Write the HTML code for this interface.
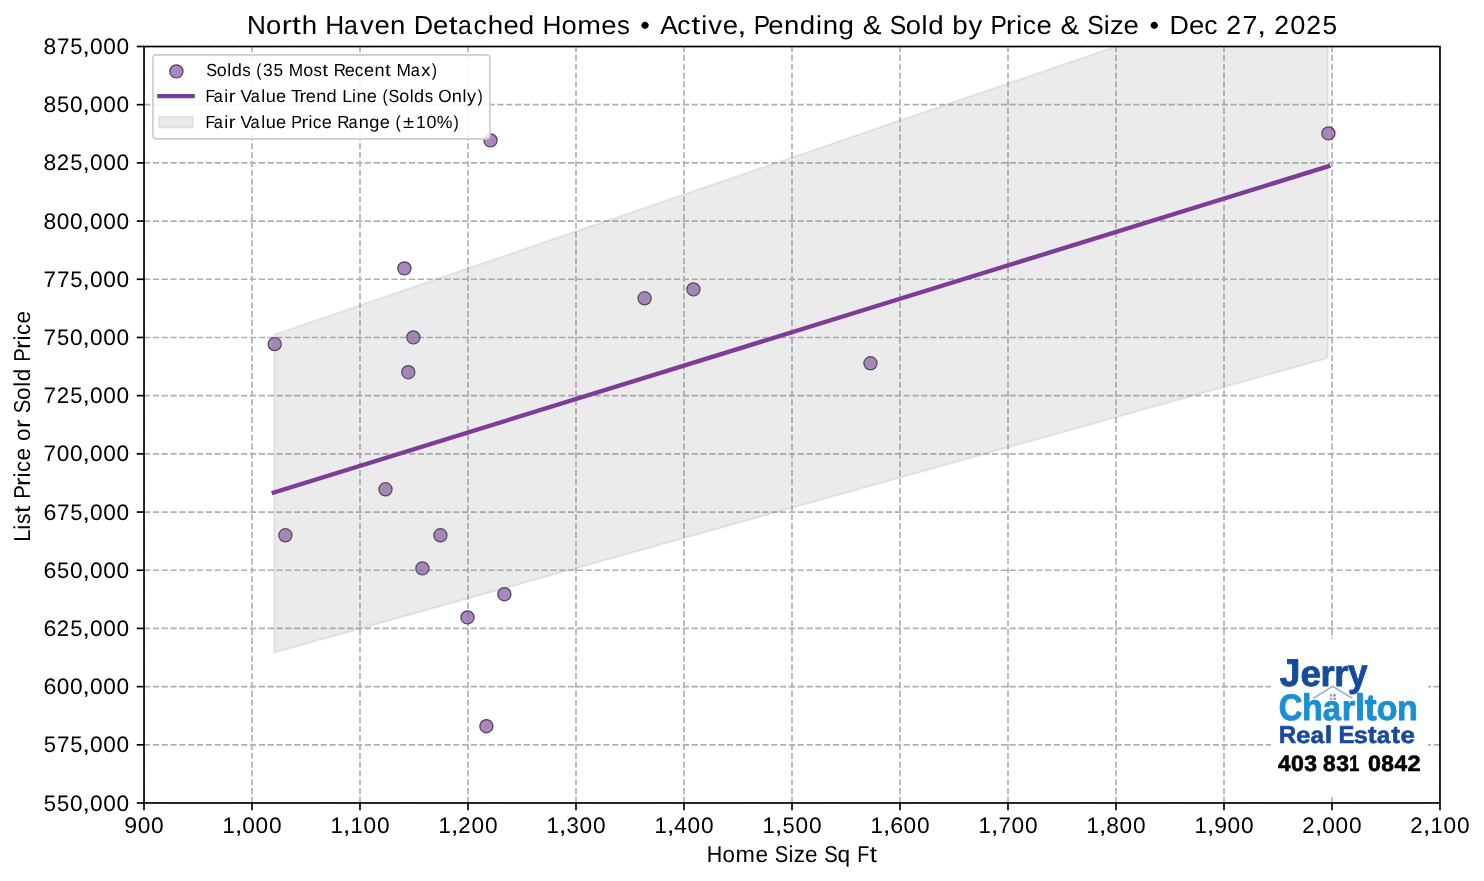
<!DOCTYPE html><html><head><meta charset="utf-8"><style>html,body{margin:0;padding:0;background:#fff;width:1484px;height:881px;overflow:hidden}svg{display:block;will-change:transform}text{font-family:"Liberation Sans", sans-serif;font-kerning:none;white-space:pre;text-rendering:geometricPrecision}</style></head><body>
<svg width="1484" height="881" viewBox="0 0 1484 881">
<rect x="0" y="0" width="1484" height="881" fill="#fff"/>
<defs><clipPath id="ax"><rect x="144.0" y="46.5" width="1296.0" height="756.5"/></clipPath></defs>
<g clip-path="url(#ax)">
<g stroke="#b0b0b0" stroke-width="1.67" stroke-dasharray="6.1667 2.6667"><line x1="144.00" y1="803.0" x2="144.00" y2="46.5"/><line x1="252.00" y1="803.0" x2="252.00" y2="46.5"/><line x1="360.00" y1="803.0" x2="360.00" y2="46.5"/><line x1="468.00" y1="803.0" x2="468.00" y2="46.5"/><line x1="576.00" y1="803.0" x2="576.00" y2="46.5"/><line x1="684.00" y1="803.0" x2="684.00" y2="46.5"/><line x1="792.00" y1="803.0" x2="792.00" y2="46.5"/><line x1="900.00" y1="803.0" x2="900.00" y2="46.5"/><line x1="1008.00" y1="803.0" x2="1008.00" y2="46.5"/><line x1="1116.00" y1="803.0" x2="1116.00" y2="46.5"/><line x1="1224.00" y1="803.0" x2="1224.00" y2="46.5"/><line x1="1332.00" y1="803.0" x2="1332.00" y2="46.5"/><line x1="1440.00" y1="803.0" x2="1440.00" y2="46.5"/><line x1="144.0" y1="803.00" x2="1440.0" y2="803.00"/><line x1="144.0" y1="744.81" x2="1440.0" y2="744.81"/><line x1="144.0" y1="686.62" x2="1440.0" y2="686.62"/><line x1="144.0" y1="628.42" x2="1440.0" y2="628.42"/><line x1="144.0" y1="570.23" x2="1440.0" y2="570.23"/><line x1="144.0" y1="512.04" x2="1440.0" y2="512.04"/><line x1="144.0" y1="453.85" x2="1440.0" y2="453.85"/><line x1="144.0" y1="395.65" x2="1440.0" y2="395.65"/><line x1="144.0" y1="337.46" x2="1440.0" y2="337.46"/><line x1="144.0" y1="279.27" x2="1440.0" y2="279.27"/><line x1="144.0" y1="221.08" x2="1440.0" y2="221.08"/><line x1="144.0" y1="162.88" x2="1440.0" y2="162.88"/><line x1="144.0" y1="104.69" x2="1440.0" y2="104.69"/><line x1="144.0" y1="46.50" x2="1440.0" y2="46.50"/></g>
<g fill="#8d60a8" fill-opacity="0.75" stroke="#35283f" stroke-opacity="0.85" stroke-width="1.2"><circle cx="274.7" cy="344.1" r="6.6"/><circle cx="285.4" cy="535.3" r="6.6"/><circle cx="385.5" cy="489.3" r="6.6"/><circle cx="404.4" cy="268.4" r="6.6"/><circle cx="408.3" cy="372.2" r="6.6"/><circle cx="413.35" cy="337.4" r="6.6"/><circle cx="422.4" cy="568.4" r="6.6"/><circle cx="440.4" cy="535.3" r="6.6"/><circle cx="467.5" cy="617.4" r="6.6"/><circle cx="486.4" cy="726.2" r="6.6"/><circle cx="490.5" cy="140.4" r="6.6"/><circle cx="504.4" cy="594.2" r="6.6"/><circle cx="644.6" cy="298.3" r="6.6"/><circle cx="693.45" cy="289.4" r="6.6"/><circle cx="870.5" cy="363.3" r="6.6"/><circle cx="1328.4" cy="133.4" r="6.6"/></g>
<polygon points="274.3,334.64 1327.8,-26.0 1327.8,358.0 274.3,652.56" fill="#808080" fill-opacity="0.16" stroke="#808080" stroke-opacity="0.16" stroke-width="2"/>
<line x1="273.8" y1="492.5" x2="1328.3" y2="166.3" stroke="#7d3c98" stroke-width="4.4" stroke-linecap="square"/>
</g>
<rect x="144.0" y="46.5" width="1296.0" height="756.5" fill="none" stroke="#000" stroke-width="1.67"/>
<g stroke="#000" stroke-width="1.67"><line x1="144.00" y1="803.0" x2="144.00" y2="810.30"/><line x1="252.00" y1="803.0" x2="252.00" y2="810.30"/><line x1="360.00" y1="803.0" x2="360.00" y2="810.30"/><line x1="468.00" y1="803.0" x2="468.00" y2="810.30"/><line x1="576.00" y1="803.0" x2="576.00" y2="810.30"/><line x1="684.00" y1="803.0" x2="684.00" y2="810.30"/><line x1="792.00" y1="803.0" x2="792.00" y2="810.30"/><line x1="900.00" y1="803.0" x2="900.00" y2="810.30"/><line x1="1008.00" y1="803.0" x2="1008.00" y2="810.30"/><line x1="1116.00" y1="803.0" x2="1116.00" y2="810.30"/><line x1="1224.00" y1="803.0" x2="1224.00" y2="810.30"/><line x1="1332.00" y1="803.0" x2="1332.00" y2="810.30"/><line x1="1440.00" y1="803.0" x2="1440.00" y2="810.30"/><line x1="136.70" y1="803.00" x2="144.0" y2="803.00"/><line x1="136.70" y1="744.81" x2="144.0" y2="744.81"/><line x1="136.70" y1="686.62" x2="144.0" y2="686.62"/><line x1="136.70" y1="628.42" x2="144.0" y2="628.42"/><line x1="136.70" y1="570.23" x2="144.0" y2="570.23"/><line x1="136.70" y1="512.04" x2="144.0" y2="512.04"/><line x1="136.70" y1="453.85" x2="144.0" y2="453.85"/><line x1="136.70" y1="395.65" x2="144.0" y2="395.65"/><line x1="136.70" y1="337.46" x2="144.0" y2="337.46"/><line x1="136.70" y1="279.27" x2="144.0" y2="279.27"/><line x1="136.70" y1="221.08" x2="144.0" y2="221.08"/><line x1="136.70" y1="162.88" x2="144.0" y2="162.88"/><line x1="136.70" y1="104.69" x2="144.0" y2="104.69"/><line x1="136.70" y1="46.50" x2="144.0" y2="46.50"/></g>
<g transform="translate(0 810.60)" font-size="22.4" fill="#000"><text transform="translate(49.79 0) scale(0.981 1)" x="-6.21">5</text><text transform="translate(63.04 0) scale(0.981 1)" x="-6.21">5</text><text transform="translate(76.40 0) scale(1.014 1)" x="-6.23">0</text><text transform="translate(86.13 0) scale(1.239 1)" x="-3.11">,</text><text transform="translate(96.28 0) scale(1.014 1)" x="-6.23">0</text><text transform="translate(109.53 0) scale(1.014 1)" x="-6.23">0</text><text transform="translate(122.79 0) scale(1.014 1)" x="-6.23">0</text></g>
<g transform="translate(0 752.41)" font-size="22.4" fill="#000"><text transform="translate(49.79 0) scale(0.981 1)" x="-6.21">5</text><text transform="translate(63.12 0) scale(1.001 1)" x="-6.24">7</text><text transform="translate(76.30 0) scale(0.981 1)" x="-6.21">5</text><text transform="translate(86.13 0) scale(1.239 1)" x="-3.11">,</text><text transform="translate(96.28 0) scale(1.014 1)" x="-6.23">0</text><text transform="translate(109.53 0) scale(1.014 1)" x="-6.23">0</text><text transform="translate(122.79 0) scale(1.014 1)" x="-6.23">0</text></g>
<g transform="translate(0 694.22)" font-size="22.4" fill="#000"><text transform="translate(49.97 0) scale(1.034 1)" x="-6.31">6</text><text transform="translate(63.15 0) scale(1.014 1)" x="-6.23">0</text><text transform="translate(76.40 0) scale(1.014 1)" x="-6.23">0</text><text transform="translate(86.13 0) scale(1.239 1)" x="-3.11">,</text><text transform="translate(96.28 0) scale(1.014 1)" x="-6.23">0</text><text transform="translate(109.53 0) scale(1.014 1)" x="-6.23">0</text><text transform="translate(122.79 0) scale(1.014 1)" x="-6.23">0</text></g>
<g transform="translate(0 636.02)" font-size="22.4" fill="#000"><text transform="translate(49.97 0) scale(1.034 1)" x="-6.31">6</text><text transform="translate(62.87 0) scale(0.993 1)" x="-6.23">2</text><text transform="translate(76.30 0) scale(0.981 1)" x="-6.21">5</text><text transform="translate(86.13 0) scale(1.239 1)" x="-3.11">,</text><text transform="translate(96.28 0) scale(1.014 1)" x="-6.23">0</text><text transform="translate(109.53 0) scale(1.014 1)" x="-6.23">0</text><text transform="translate(122.79 0) scale(1.014 1)" x="-6.23">0</text></g>
<g transform="translate(0 577.83)" font-size="22.4" fill="#000"><text transform="translate(49.97 0) scale(1.034 1)" x="-6.31">6</text><text transform="translate(63.04 0) scale(0.981 1)" x="-6.21">5</text><text transform="translate(76.40 0) scale(1.014 1)" x="-6.23">0</text><text transform="translate(86.13 0) scale(1.239 1)" x="-3.11">,</text><text transform="translate(96.28 0) scale(1.014 1)" x="-6.23">0</text><text transform="translate(109.53 0) scale(1.014 1)" x="-6.23">0</text><text transform="translate(122.79 0) scale(1.014 1)" x="-6.23">0</text></g>
<g transform="translate(0 519.64)" font-size="22.4" fill="#000"><text transform="translate(49.97 0) scale(1.034 1)" x="-6.31">6</text><text transform="translate(63.12 0) scale(1.001 1)" x="-6.24">7</text><text transform="translate(76.30 0) scale(0.981 1)" x="-6.21">5</text><text transform="translate(86.13 0) scale(1.239 1)" x="-3.11">,</text><text transform="translate(96.28 0) scale(1.014 1)" x="-6.23">0</text><text transform="translate(109.53 0) scale(1.014 1)" x="-6.23">0</text><text transform="translate(122.79 0) scale(1.014 1)" x="-6.23">0</text></g>
<g transform="translate(0 461.45)" font-size="22.4" fill="#000"><text transform="translate(49.86 0) scale(1.001 1)" x="-6.24">7</text><text transform="translate(63.15 0) scale(1.014 1)" x="-6.23">0</text><text transform="translate(76.40 0) scale(1.014 1)" x="-6.23">0</text><text transform="translate(86.13 0) scale(1.239 1)" x="-3.11">,</text><text transform="translate(96.28 0) scale(1.014 1)" x="-6.23">0</text><text transform="translate(109.53 0) scale(1.014 1)" x="-6.23">0</text><text transform="translate(122.79 0) scale(1.014 1)" x="-6.23">0</text></g>
<g transform="translate(0 403.25)" font-size="22.4" fill="#000"><text transform="translate(49.86 0) scale(1.001 1)" x="-6.24">7</text><text transform="translate(62.87 0) scale(0.993 1)" x="-6.23">2</text><text transform="translate(76.30 0) scale(0.981 1)" x="-6.21">5</text><text transform="translate(86.13 0) scale(1.239 1)" x="-3.11">,</text><text transform="translate(96.28 0) scale(1.014 1)" x="-6.23">0</text><text transform="translate(109.53 0) scale(1.014 1)" x="-6.23">0</text><text transform="translate(122.79 0) scale(1.014 1)" x="-6.23">0</text></g>
<g transform="translate(0 345.06)" font-size="22.4" fill="#000"><text transform="translate(49.86 0) scale(1.001 1)" x="-6.24">7</text><text transform="translate(63.04 0) scale(0.981 1)" x="-6.21">5</text><text transform="translate(76.40 0) scale(1.014 1)" x="-6.23">0</text><text transform="translate(86.13 0) scale(1.239 1)" x="-3.11">,</text><text transform="translate(96.28 0) scale(1.014 1)" x="-6.23">0</text><text transform="translate(109.53 0) scale(1.014 1)" x="-6.23">0</text><text transform="translate(122.79 0) scale(1.014 1)" x="-6.23">0</text></g>
<g transform="translate(0 286.87)" font-size="22.4" fill="#000"><text transform="translate(49.86 0) scale(1.001 1)" x="-6.24">7</text><text transform="translate(63.12 0) scale(1.001 1)" x="-6.24">7</text><text transform="translate(76.30 0) scale(0.981 1)" x="-6.21">5</text><text transform="translate(86.13 0) scale(1.239 1)" x="-3.11">,</text><text transform="translate(96.28 0) scale(1.014 1)" x="-6.23">0</text><text transform="translate(109.53 0) scale(1.014 1)" x="-6.23">0</text><text transform="translate(122.79 0) scale(1.014 1)" x="-6.23">0</text></g>
<g transform="translate(0 228.68)" font-size="22.4" fill="#000"><text transform="translate(49.89 0) scale(1.020 1)" x="-6.23">8</text><text transform="translate(63.15 0) scale(1.014 1)" x="-6.23">0</text><text transform="translate(76.40 0) scale(1.014 1)" x="-6.23">0</text><text transform="translate(86.13 0) scale(1.239 1)" x="-3.11">,</text><text transform="translate(96.28 0) scale(1.014 1)" x="-6.23">0</text><text transform="translate(109.53 0) scale(1.014 1)" x="-6.23">0</text><text transform="translate(122.79 0) scale(1.014 1)" x="-6.23">0</text></g>
<g transform="translate(0 170.48)" font-size="22.4" fill="#000"><text transform="translate(49.89 0) scale(1.020 1)" x="-6.23">8</text><text transform="translate(62.87 0) scale(0.993 1)" x="-6.23">2</text><text transform="translate(76.30 0) scale(0.981 1)" x="-6.21">5</text><text transform="translate(86.13 0) scale(1.239 1)" x="-3.11">,</text><text transform="translate(96.28 0) scale(1.014 1)" x="-6.23">0</text><text transform="translate(109.53 0) scale(1.014 1)" x="-6.23">0</text><text transform="translate(122.79 0) scale(1.014 1)" x="-6.23">0</text></g>
<g transform="translate(0 112.29)" font-size="22.4" fill="#000"><text transform="translate(49.89 0) scale(1.020 1)" x="-6.23">8</text><text transform="translate(63.04 0) scale(0.981 1)" x="-6.21">5</text><text transform="translate(76.40 0) scale(1.014 1)" x="-6.23">0</text><text transform="translate(86.13 0) scale(1.239 1)" x="-3.11">,</text><text transform="translate(96.28 0) scale(1.014 1)" x="-6.23">0</text><text transform="translate(109.53 0) scale(1.014 1)" x="-6.23">0</text><text transform="translate(122.79 0) scale(1.014 1)" x="-6.23">0</text></g>
<g transform="translate(0 54.10)" font-size="22.4" fill="#000"><text transform="translate(49.89 0) scale(1.020 1)" x="-6.23">8</text><text transform="translate(63.12 0) scale(1.001 1)" x="-6.24">7</text><text transform="translate(76.30 0) scale(0.981 1)" x="-6.21">5</text><text transform="translate(86.13 0) scale(1.239 1)" x="-3.11">,</text><text transform="translate(96.28 0) scale(1.014 1)" x="-6.23">0</text><text transform="translate(109.53 0) scale(1.014 1)" x="-6.23">0</text><text transform="translate(122.79 0) scale(1.014 1)" x="-6.23">0</text></g>
<g transform="translate(0 833.30)" font-size="22.4" fill="#000"><text transform="translate(130.67 0) scale(1.033 1)" x="-6.22">9</text><text transform="translate(143.99 0) scale(1.014 1)" x="-6.23">0</text><text transform="translate(157.25 0) scale(1.014 1)" x="-6.23">0</text></g>
<g transform="translate(0 833.30)" font-size="22.4" fill="#000"><text transform="translate(228.99 0) scale(0.987 1)" x="-6.54">1</text><text transform="translate(238.53 0) scale(1.239 1)" x="-3.11">,</text><text transform="translate(248.68 0) scale(1.014 1)" x="-6.23">0</text><text transform="translate(261.93 0) scale(1.014 1)" x="-6.23">0</text><text transform="translate(275.19 0) scale(1.014 1)" x="-6.23">0</text></g>
<g transform="translate(0 833.30)" font-size="22.4" fill="#000"><text transform="translate(336.99 0) scale(0.987 1)" x="-6.54">1</text><text transform="translate(346.53 0) scale(1.239 1)" x="-3.11">,</text><text transform="translate(356.87 0) scale(0.987 1)" x="-6.54">1</text><text transform="translate(369.93 0) scale(1.014 1)" x="-6.23">0</text><text transform="translate(383.19 0) scale(1.014 1)" x="-6.23">0</text></g>
<g transform="translate(0 833.30)" font-size="22.4" fill="#000"><text transform="translate(444.99 0) scale(0.987 1)" x="-6.54">1</text><text transform="translate(454.53 0) scale(1.239 1)" x="-3.11">,</text><text transform="translate(464.40 0) scale(0.993 1)" x="-6.23">2</text><text transform="translate(477.93 0) scale(1.014 1)" x="-6.23">0</text><text transform="translate(491.19 0) scale(1.014 1)" x="-6.23">0</text></g>
<g transform="translate(0 833.30)" font-size="22.4" fill="#000"><text transform="translate(552.99 0) scale(0.987 1)" x="-6.54">1</text><text transform="translate(562.53 0) scale(1.239 1)" x="-3.11">,</text><text transform="translate(572.64 0) scale(0.991 1)" x="-6.16">3</text><text transform="translate(585.93 0) scale(1.014 1)" x="-6.23">0</text><text transform="translate(599.19 0) scale(1.014 1)" x="-6.23">0</text></g>
<g transform="translate(0 833.30)" font-size="22.4" fill="#000"><text transform="translate(660.99 0) scale(0.987 1)" x="-6.54">1</text><text transform="translate(670.53 0) scale(1.239 1)" x="-3.11">,</text><text transform="translate(680.61 0) scale(1.014 1)" x="-6.16">4</text><text transform="translate(693.93 0) scale(1.014 1)" x="-6.23">0</text><text transform="translate(707.19 0) scale(1.014 1)" x="-6.23">0</text></g>
<g transform="translate(0 833.30)" font-size="22.4" fill="#000"><text transform="translate(768.99 0) scale(0.987 1)" x="-6.54">1</text><text transform="translate(778.53 0) scale(1.239 1)" x="-3.11">,</text><text transform="translate(788.58 0) scale(0.981 1)" x="-6.21">5</text><text transform="translate(801.93 0) scale(1.014 1)" x="-6.23">0</text><text transform="translate(815.19 0) scale(1.014 1)" x="-6.23">0</text></g>
<g transform="translate(0 833.30)" font-size="22.4" fill="#000"><text transform="translate(876.99 0) scale(0.987 1)" x="-6.54">1</text><text transform="translate(886.53 0) scale(1.239 1)" x="-3.11">,</text><text transform="translate(896.75 0) scale(1.034 1)" x="-6.31">6</text><text transform="translate(909.93 0) scale(1.014 1)" x="-6.23">0</text><text transform="translate(923.19 0) scale(1.014 1)" x="-6.23">0</text></g>
<g transform="translate(0 833.30)" font-size="22.4" fill="#000"><text transform="translate(984.99 0) scale(0.987 1)" x="-6.54">1</text><text transform="translate(994.53 0) scale(1.239 1)" x="-3.11">,</text><text transform="translate(1004.65 0) scale(1.001 1)" x="-6.24">7</text><text transform="translate(1017.93 0) scale(1.014 1)" x="-6.23">0</text><text transform="translate(1031.19 0) scale(1.014 1)" x="-6.23">0</text></g>
<g transform="translate(0 833.30)" font-size="22.4" fill="#000"><text transform="translate(1092.99 0) scale(0.987 1)" x="-6.54">1</text><text transform="translate(1102.53 0) scale(1.239 1)" x="-3.11">,</text><text transform="translate(1112.68 0) scale(1.020 1)" x="-6.23">8</text><text transform="translate(1125.93 0) scale(1.014 1)" x="-6.23">0</text><text transform="translate(1139.19 0) scale(1.014 1)" x="-6.23">0</text></g>
<g transform="translate(0 833.30)" font-size="22.4" fill="#000"><text transform="translate(1200.99 0) scale(0.987 1)" x="-6.54">1</text><text transform="translate(1210.53 0) scale(1.239 1)" x="-3.11">,</text><text transform="translate(1220.61 0) scale(1.033 1)" x="-6.22">9</text><text transform="translate(1233.93 0) scale(1.014 1)" x="-6.23">0</text><text transform="translate(1247.19 0) scale(1.014 1)" x="-6.23">0</text></g>
<g transform="translate(0 833.30)" font-size="22.4" fill="#000"><text transform="translate(1308.53 0) scale(0.993 1)" x="-6.23">2</text><text transform="translate(1318.53 0) scale(1.239 1)" x="-3.11">,</text><text transform="translate(1328.68 0) scale(1.014 1)" x="-6.23">0</text><text transform="translate(1341.93 0) scale(1.014 1)" x="-6.23">0</text><text transform="translate(1355.19 0) scale(1.014 1)" x="-6.23">0</text></g>
<g transform="translate(0 833.30)" font-size="22.4" fill="#000"><text transform="translate(1416.53 0) scale(0.993 1)" x="-6.23">2</text><text transform="translate(1426.53 0) scale(1.239 1)" x="-3.11">,</text><text transform="translate(1436.87 0) scale(0.987 1)" x="-6.54">1</text><text transform="translate(1449.93 0) scale(1.014 1)" x="-6.23">0</text><text transform="translate(1463.19 0) scale(1.014 1)" x="-6.23">0</text></g>
<g transform="translate(0 861.70)" font-size="23.0" fill="#000"><text transform="translate(714.45 0) scale(0.934 1)" x="-8.31">H</text><text transform="translate(728.67 0) scale(0.971 1)" x="-6.40">o</text><text transform="translate(745.24 0) scale(1.012 1)" x="-9.59">m</text><text transform="translate(761.76 0) scale(0.980 1)" x="-6.37">e</text><text transform="translate(781.49 0) scale(0.877 1)" x="-7.66">S</text><text transform="translate(790.89 0) scale(0.948 1)" x="-2.55">i</text><text transform="translate(799.25 0) scale(0.975 1)" x="-5.64">z</text><text transform="translate(811.14 0) scale(0.980 1)" x="-6.37">e</text><text transform="translate(830.87 0) scale(0.877 1)" x="-7.66">S</text><text transform="translate(843.62 0) scale(0.983 1)" x="-6.14">q</text><text transform="translate(863.63 0) scale(0.859 1)" x="-7.51">F</text><text transform="translate(873.32 0) scale(1.119 1)" x="-3.28">t</text></g>
<g transform="translate(30.2 0) rotate(-90) translate(0 0.00)" font-size="23.0" fill="#000"><text transform="translate(-534.97 0) scale(0.958 1)" x="-6.96">L</text><text transform="translate(-527.23 0) scale(0.954 1)" x="-2.55">i</text><text transform="translate(-518.86 0) scale(0.920 1)" x="-5.65">s</text><text transform="translate(-509.37 0) scale(1.125 1)" x="-3.28">t</text><text transform="translate(-491.73 0) scale(0.879 1)" x="-8.01">P</text><text transform="translate(-481.25 0) scale(1.095 1)" x="-4.40">r</text><text transform="translate(-475.01 0) scale(0.954 1)" x="-2.55">i</text><text transform="translate(-466.46 0) scale(0.944 1)" x="-5.94">c</text><text transform="translate(-454.23 0) scale(0.986 1)" x="-6.37">e</text><text transform="translate(-434.83 0) scale(0.976 1)" x="-6.40">o</text><text transform="translate(-423.23 0) scale(1.095 1)" x="-4.40">r</text><text transform="translate(-406.54 0) scale(0.883 1)" x="-7.66">S</text><text transform="translate(-393.65 0) scale(0.976 1)" x="-6.40">o</text><text transform="translate(-384.38 0) scale(0.954 1)" x="-2.56">l</text><text transform="translate(-375.25 0) scale(0.989 1)" x="-6.14">d</text><text transform="translate(-354.69 0) scale(0.879 1)" x="-8.01">P</text><text transform="translate(-344.20 0) scale(1.095 1)" x="-4.40">r</text><text transform="translate(-337.96 0) scale(0.954 1)" x="-2.55">i</text><text transform="translate(-329.42 0) scale(0.944 1)" x="-5.94">c</text><text transform="translate(-317.18 0) scale(0.986 1)" x="-6.37">e</text></g>
<g transform="translate(0 33.60)" font-size="26.0" fill="#000"><text transform="translate(256.52 0) scale(1.007 1)" x="-9.39">N</text><text transform="translate(273.58 0) scale(1.051 1)" x="-7.23">o</text><text transform="translate(287.54 0) scale(1.177 1)" x="-4.98">r</text><text transform="translate(296.51 0) scale(1.209 1)" x="-3.71">t</text><text transform="translate(309.42 0) scale(1.064 1)" x="-7.29">h</text><text transform="translate(334.69 0) scale(1.011 1)" x="-9.39">H</text><text transform="translate(351.42 0) scale(0.956 1)" x="-7.78">a</text><text transform="translate(366.92 0) scale(1.060 1)" x="-6.50">v</text><text transform="translate(382.08 0) scale(1.061 1)" x="-7.20">e</text><text transform="translate(397.79 0) scale(1.059 1)" x="-7.25">n</text><text transform="translate(423.79 0) scale(1.034 1)" x="-9.83">D</text><text transform="translate(440.70 0) scale(1.061 1)" x="-7.20">e</text><text transform="translate(453.34 0) scale(1.209 1)" x="-3.71">t</text><text transform="translate(465.52 0) scale(0.956 1)" x="-7.78">a</text><text transform="translate(480.40 0) scale(1.016 1)" x="-6.71">c</text><text transform="translate(495.40 0) scale(1.064 1)" x="-7.29">h</text><text transform="translate(511.02 0) scale(1.061 1)" x="-7.20">e</text><text transform="translate(526.23 0) scale(1.064 1)" x="-6.94">d</text><text transform="translate(552.04 0) scale(1.011 1)" x="-9.39">H</text><text transform="translate(569.15 0) scale(1.051 1)" x="-7.23">o</text><text transform="translate(589.10 0) scale(1.095 1)" x="-10.84">m</text><text transform="translate(608.99 0) scale(1.061 1)" x="-7.20">e</text><text transform="translate(623.28 0) scale(0.990 1)" x="-6.39">s</text><text transform="translate(645.12 0) scale(1.055 1)" x="-4.55">•</text><text transform="translate(669.06 0) scale(1.018 1)" x="-8.67">A</text><text transform="translate(684.01 0) scale(1.016 1)" x="-6.71">c</text><text transform="translate(695.95 0) scale(1.209 1)" x="-3.71">t</text><text transform="translate(704.32 0) scale(1.027 1)" x="-2.88">i</text><text transform="translate(715.22 0) scale(1.060 1)" x="-6.50">v</text><text transform="translate(730.38 0) scale(1.061 1)" x="-7.20">e</text><text transform="translate(741.80 0) scale(1.279 1)" x="-3.61">,</text><text transform="translate(762.39 0) scale(0.947 1)" x="-9.05">P</text><text transform="translate(775.99 0) scale(1.061 1)" x="-7.20">e</text><text transform="translate(791.71 0) scale(1.059 1)" x="-7.25">n</text><text transform="translate(807.09 0) scale(1.064 1)" x="-6.94">d</text><text transform="translate(818.99 0) scale(1.027 1)" x="-2.88">i</text><text transform="translate(830.49 0) scale(1.059 1)" x="-7.25">n</text><text transform="translate(845.88 0) scale(1.064 1)" x="-6.94">g</text><text transform="translate(872.45 0) scale(1.080 1)" x="-8.92">&amp;</text><text transform="translate(897.88 0) scale(0.951 1)" x="-8.66">S</text><text transform="translate(913.40 0) scale(1.051 1)" x="-7.23">o</text><text transform="translate(924.55 0) scale(1.027 1)" x="-2.89">l</text><text transform="translate(935.55 0) scale(1.064 1)" x="-6.94">d</text><text transform="translate(960.34 0) scale(1.065 1)" x="-7.52">b</text><text transform="translate(975.27 0) scale(1.057 1)" x="-6.51">y</text><text transform="translate(999.03 0) scale(0.947 1)" x="-9.05">P</text><text transform="translate(1011.64 0) scale(1.177 1)" x="-4.98">r</text><text transform="translate(1019.15 0) scale(1.027 1)" x="-2.88">i</text><text transform="translate(1029.44 0) scale(1.016 1)" x="-6.71">c</text><text transform="translate(1044.16 0) scale(1.061 1)" x="-7.20">e</text><text transform="translate(1070.01 0) scale(1.080 1)" x="-8.92">&amp;</text><text transform="translate(1095.45 0) scale(0.951 1)" x="-8.66">S</text><text transform="translate(1106.77 0) scale(1.027 1)" x="-2.88">i</text><text transform="translate(1116.83 0) scale(1.056 1)" x="-6.38">z</text><text transform="translate(1131.15 0) scale(1.061 1)" x="-7.20">e</text><text transform="translate(1154.22 0) scale(1.055 1)" x="-4.55">•</text><text transform="translate(1179.73 0) scale(1.034 1)" x="-9.83">D</text><text transform="translate(1196.64 0) scale(1.061 1)" x="-7.20">e</text><text transform="translate(1211.14 0) scale(1.016 1)" x="-6.71">c</text><text transform="translate(1233.74 0) scale(1.023 1)" x="-7.23">2</text><text transform="translate(1249.99 0) scale(1.032 1)" x="-7.24">7</text><text transform="translate(1261.74 0) scale(1.279 1)" x="-3.61">,</text><text transform="translate(1281.60 0) scale(1.023 1)" x="-7.23">2</text><text transform="translate(1297.89 0) scale(1.045 1)" x="-7.23">0</text><text transform="translate(1313.52 0) scale(1.023 1)" x="-7.23">2</text><text transform="translate(1329.68 0) scale(1.011 1)" x="-7.20">5</text></g>
<rect x="152.9" y="54.8" width="337.00" height="84.10" rx="3.3" ry="3.3" fill="#fff" fill-opacity="0.88" stroke="#cccccc" stroke-width="1.67"/>
<circle cx="176.4" cy="71.4" r="6.6" fill="#8d60a8" fill-opacity="0.75" stroke="#35283f" stroke-opacity="0.85" stroke-width="1.2"/>
<line x1="157.2" y1="96.2" x2="194.8" y2="96.2" stroke="#7d3c98" stroke-width="4.2"/>
<rect x="158.9" y="116.7" width="34" height="10.8" fill="#808080" fill-opacity="0.16" stroke="#808080" stroke-opacity="0.16" stroke-width="2"/>
<g transform="translate(0 75.90)" font-size="17.6" fill="#000"><text transform="translate(211.56 0) scale(0.922 1)" x="-5.87">S</text><text transform="translate(221.83 0) scale(1.019 1)" x="-4.89">o</text><text transform="translate(229.21 0) scale(0.996 1)" x="-1.96">l</text><text transform="translate(236.49 0) scale(1.033 1)" x="-4.70">d</text><text transform="translate(246.42 0) scale(0.960 1)" x="-4.33">s</text><text transform="translate(259.26 0) scale(0.896 1)" x="-3.42">(</text><text transform="translate(267.70 0) scale(0.990 1)" x="-4.84">3</text><text transform="translate(278.21 0) scale(0.981 1)" x="-4.88">5</text><text transform="translate(296.02 0) scale(0.982 1)" x="-7.33">M</text><text transform="translate(308.26 0) scale(1.019 1)" x="-4.89">o</text><text transform="translate(317.71 0) scale(0.960 1)" x="-4.33">s</text><text transform="translate(325.26 0) scale(1.174 1)" x="-2.51">t</text><text transform="translate(340.11 0) scale(0.959 1)" x="-6.67">R</text><text transform="translate(349.68 0) scale(1.029 1)" x="-4.88">e</text><text transform="translate(359.28 0) scale(0.985 1)" x="-4.54">c</text><text transform="translate(369.02 0) scale(1.029 1)" x="-4.88">e</text><text transform="translate(379.43 0) scale(1.028 1)" x="-4.91">n</text><text transform="translate(387.92 0) scale(1.174 1)" x="-2.51">t</text><text transform="translate(403.59 0) scale(0.982 1)" x="-7.33">M</text><text transform="translate(415.58 0) scale(0.926 1)" x="-5.27">a</text><text transform="translate(425.80 0) scale(1.045 1)" x="-4.40">x</text><text transform="translate(433.93 0) scale(0.896 1)" x="-2.44">)</text></g>
<g transform="translate(0 101.70)" font-size="17.6" fill="#000"><text transform="translate(210.78 0) scale(0.903 1)" x="-5.74">F</text><text transform="translate(218.53 0) scale(0.927 1)" x="-5.27">a</text><text transform="translate(226.19 0) scale(0.997 1)" x="-1.95">i</text><text transform="translate(232.66 0) scale(1.143 1)" x="-3.37">r</text><text transform="translate(246.28 0) scale(0.992 1)" x="-5.87">V</text><text transform="translate(255.51 0) scale(0.927 1)" x="-5.27">a</text><text transform="translate(263.17 0) scale(0.997 1)" x="-1.96">l</text><text transform="translate(270.69 0) scale(1.028 1)" x="-4.88">u</text><text transform="translate(281.13 0) scale(1.029 1)" x="-4.88">e</text><text transform="translate(296.58 0) scale(1.035 1)" x="-5.37">T</text><text transform="translate(303.38 0) scale(1.143 1)" x="-3.37">r</text><text transform="translate(310.80 0) scale(1.029 1)" x="-4.88">e</text><text transform="translate(321.21 0) scale(1.028 1)" x="-4.91">n</text><text transform="translate(331.40 0) scale(1.033 1)" x="-4.70">d</text><text transform="translate(347.65 0) scale(1.000 1)" x="-5.32">L</text><text transform="translate(353.82 0) scale(0.997 1)" x="-1.95">i</text><text transform="translate(361.43 0) scale(1.028 1)" x="-4.91">n</text><text transform="translate(371.78 0) scale(1.029 1)" x="-4.88">e</text><text transform="translate(385.44 0) scale(0.896 1)" x="-3.42">(</text><text transform="translate(393.99 0) scale(0.922 1)" x="-5.87">S</text><text transform="translate(404.26 0) scale(1.020 1)" x="-4.89">o</text><text transform="translate(411.65 0) scale(0.997 1)" x="-1.96">l</text><text transform="translate(418.93 0) scale(1.033 1)" x="-4.70">d</text><text transform="translate(428.87 0) scale(0.961 1)" x="-4.33">s</text><text transform="translate(444.97 0) scale(0.977 1)" x="-6.84">O</text><text transform="translate(456.82 0) scale(1.028 1)" x="-4.91">n</text><text transform="translate(464.35 0) scale(0.997 1)" x="-1.96">l</text><text transform="translate(471.57 0) scale(1.026 1)" x="-4.40">y</text><text transform="translate(479.68 0) scale(0.896 1)" x="-2.44">)</text></g>
<g transform="translate(0 127.80)" font-size="17.6" fill="#000"><text transform="translate(210.78 0) scale(0.907 1)" x="-5.74">F</text><text transform="translate(218.53 0) scale(0.931 1)" x="-5.27">a</text><text transform="translate(226.19 0) scale(1.001 1)" x="-1.95">i</text><text transform="translate(232.66 0) scale(1.147 1)" x="-3.37">r</text><text transform="translate(246.27 0) scale(0.996 1)" x="-5.87">V</text><text transform="translate(255.50 0) scale(0.931 1)" x="-5.27">a</text><text transform="translate(263.15 0) scale(1.001 1)" x="-1.96">l</text><text transform="translate(270.67 0) scale(1.032 1)" x="-4.88">u</text><text transform="translate(281.11 0) scale(1.033 1)" x="-4.88">e</text><text transform="translate(297.02 0) scale(0.923 1)" x="-6.13">P</text><text transform="translate(305.37 0) scale(1.147 1)" x="-3.37">r</text><text transform="translate(310.34 0) scale(1.001 1)" x="-1.95">i</text><text transform="translate(317.15 0) scale(0.990 1)" x="-4.54">c</text><text transform="translate(326.90 0) scale(1.033 1)" x="-4.88">e</text><text transform="translate(343.61 0) scale(0.963 1)" x="-6.67">R</text><text transform="translate(353.28 0) scale(0.931 1)" x="-5.27">a</text><text transform="translate(363.93 0) scale(1.032 1)" x="-4.91">n</text><text transform="translate(374.12 0) scale(1.037 1)" x="-4.70">g</text><text transform="translate(384.81 0) scale(1.033 1)" x="-4.88">e</text><text transform="translate(398.47 0) scale(0.900 1)" x="-3.42">(</text><text transform="translate(408.62 0) scale(1.151 1)" x="-4.83">±</text><text transform="translate(421.01 0) scale(0.992 1)" x="-5.13">1</text><text transform="translate(431.42 0) scale(1.019 1)" x="-4.89">0</text><text transform="translate(444.60 0) scale(1.003 1)" x="-7.82">%</text><text transform="translate(455.68 0) scale(0.900 1)" x="-2.44">)</text></g>
<rect x="1271" y="639" width="157" height="158" fill="#fff"/>
<g transform="translate(0 685.80)" font-size="38.5" font-weight="bold" fill="#154b9c" stroke="#154b9c" stroke-width="0.9" stroke-linejoin="round"><text transform="translate(1289.19 0) scale(0.966 1)" x="-9.68">J</text><text transform="translate(1310.89 0) scale(0.957 0.950)" x="-10.80">e</text><text transform="translate(1328.56 0) scale(0.943 0.950)" x="-8.47">r</text><text transform="translate(1342.34 0) scale(0.943 0.950)" x="-8.47">r</text><text transform="translate(1357.90 0) scale(0.913 1)" x="-10.75">y</text></g>
<g transform="translate(0 720.40)" font-size="37" font-weight="bold" fill="#1a8fd3" stroke="#1a8fd3" stroke-width="0.9" stroke-linejoin="round"><text transform="translate(1290.70 0) scale(0.886 1)" x="-13.61">C</text><text transform="translate(1312.46 0) scale(0.924 1)" x="-11.45">h</text><text transform="translate(1332.31 0) scale(0.882 0.950)" x="-10.95">a</text><text transform="translate(1349.35 0) scale(0.934 0.950)" x="-8.14">r</text><text transform="translate(1360.00 0) scale(0.971 1)" x="-5.12">l</text><text transform="translate(1370.63 0) scale(0.962 1)" x="-6.16">t</text><text transform="translate(1387.21 0) scale(0.916 0.950)" x="-11.30">o</text><text transform="translate(1407.56 0) scale(0.919 0.950)" x="-11.37">n</text></g>
<g transform="translate(0 743.40)" font-size="24.5" font-weight="bold" fill="#17499d" stroke="#17499d" stroke-width="0.6" stroke-linejoin="round"><text transform="translate(1287.95 0) scale(0.987 1)" x="-9.41">R</text><text transform="translate(1303.37 0) scale(1.066 0.950)" x="-6.87">e</text><text transform="translate(1317.72 0) scale(0.992 0.950)" x="-7.25">a</text><text transform="translate(1328.50 0) scale(1.092 1)" x="-3.39">l</text><text transform="translate(1346.88 0) scale(0.972 1)" x="-8.51">E</text><text transform="translate(1360.68 0) scale(1.030 0.950)" x="-6.74">s</text><text transform="translate(1372.09 0) scale(1.082 1)" x="-4.08">t</text><text transform="translate(1384.05 0) scale(0.992 0.950)" x="-7.25">a</text><text transform="translate(1395.61 0) scale(1.082 1)" x="-4.08">t</text><text transform="translate(1407.75 0) scale(1.066 0.950)" x="-6.87">e</text></g>
<g transform="translate(0 771.40)" font-size="22.3" font-weight="bold" fill="#000" stroke="#000" stroke-width="0.6" stroke-linejoin="round"><text transform="translate(1284.34 0) scale(1.016 1)" x="-6.31">4</text><text transform="translate(1297.47 0) scale(1.040 1)" x="-6.18">0</text><text transform="translate(1310.40 0) scale(1.030 1)" x="-6.05">3</text><text transform="translate(1329.42 0) scale(1.018 1)" x="-6.21">8</text><text transform="translate(1342.36 0) scale(1.030 1)" x="-6.05">3</text><text transform="translate(1354.54 0) scale(0.837 1)" x="-6.59">1</text><text transform="translate(1374.52 0) scale(1.040 1)" x="-6.18">0</text><text transform="translate(1387.64 0) scale(1.018 1)" x="-6.21">8</text><text transform="translate(1400.78 0) scale(1.016 1)" x="-6.31">4</text><text transform="translate(1413.87 0) scale(1.059 1)" x="-6.14">2</text></g>
<polyline points="1313.5,698.2 1332.6,686.3 1352.3,698.2" fill="none" stroke="#a3b6d0" stroke-width="1.9"/>
<g fill="#8797bd"><rect x="1329.9" y="694.2" width="2.0" height="2.4"/><rect x="1333.1" y="694.2" width="2.8" height="2.4"/><rect x="1329.9" y="697.9" width="2.0" height="1.9"/><rect x="1333.1" y="697.9" width="2.8" height="1.9"/></g>
</svg></body></html>
